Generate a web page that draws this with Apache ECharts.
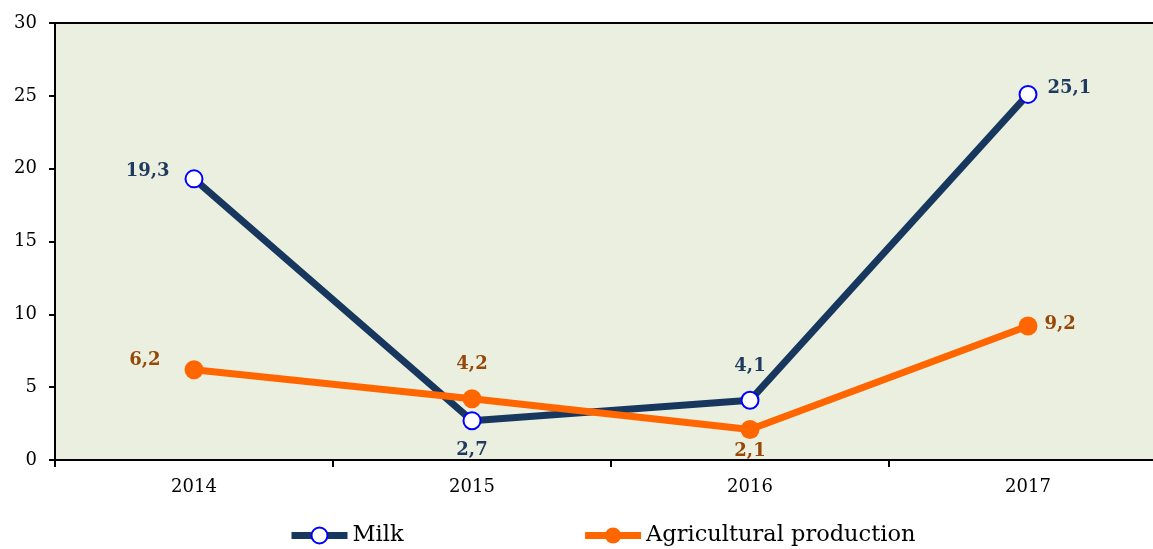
<!DOCTYPE html>
<html><head><meta charset="utf-8">
<script src="https://cdn.jsdelivr.net/npm/echarts@6/dist/echarts.min.js"></script>
<style>html,body{margin:0;padding:0;background:#fff}#c{width:1153px;height:549px}</style>
</head><body><div id="c"></div>
<script>
const categories = ['2014', '2015', '2016', '2017'];
const milk = [19.3, 2.7, 4.1, 25.1];
const agri = [6.2, 4.2, 2.1, 9.2];
const milkLabelPos = ['left', 'bottom', 'top', 'right'];
const agriLabelPos = ['left', 'top', 'bottom', 'right'];
const yTicks = [0, 5, 10, 15, 20, 25, 30];

const font = 'DejaVu Serif';
const fmt = p => String(p.value).replace('.', ',');

const milkDist = { left: 15, right: 10, top: 15, bottom: 11 };
const agriDist = { left: 24, right: 7, top: 16, bottom: 3 };
const milkOff = { left: [0, -8], right: [0, -6], top: [0, 0], bottom: [0, 0] };
const agriOff = { left: [0, -9], right: [0, -2], top: [0, 0], bottom: [0, 0] };

function mk(vals, pos, color, dist, off) {
  return vals.map((v, i) => ({
    value: v,
    label: { position: pos[i], distance: dist[pos[i]], offset: off[pos[i]], color: color }
  }));
}

const chart = echarts.init(document.getElementById('c'));
chart.setOption({
  animation: false,
  grid: { left: 55, top: 23, width: 1112, height: 437, outerBoundsMode: 'none', containLabel: false,
          show: true, backgroundColor: '#EBEFDF', borderColor: '#000', borderWidth: 2 },
  xAxis: {
    type: 'category', data: categories, boundaryGap: true,
    axisLine: { lineStyle: { color: '#000', width: 2 } },
    axisTick: { show: true, length: 7, lineStyle: { color: '#000', width: 2 } },
    axisLabel: { color: '#000', fontFamily: font, fontSize: 18, margin: 18 }
  },
  yAxis: {
    type: 'value', min: yTicks[0], max: yTicks[yTicks.length - 1], interval: 5,
    axisLine: { show: true, lineStyle: { color: '#000', width: 2 } },
    axisTick: { show: true, length: 6, lineStyle: { color: '#000', width: 2 } },
    splitLine: { show: false },
    axisLabel: { color: '#000', fontFamily: font, fontSize: 18, margin: 18 }
  },
  legend: {
    top: 524, left: 288, padding: 0, itemWidth: 56, itemHeight: 20, itemGap: 178,
    lineStyle: { width: 7 },
    textStyle: { fontFamily: font, fontSize: 22.5, color: '#000' },
    data: ['Milk', 'Agricultural production']
  },
  series: [
    {
      name: 'Milk', type: 'line', data: mk(milk, milkLabelPos, '#1F3A5F', milkDist, milkOff),
      lineStyle: { color: '#17375E', width: 7 },
      itemStyle: { color: '#fff', borderColor: '#0000FF', borderWidth: 2 },
      symbol: 'circle', symbolSize: 17, z: 2,
      label: { show: true, formatter: fmt, fontFamily: font, fontWeight: 'bold', fontSize: 18 }
    },
    {
      name: 'Agricultural production', type: 'line', data: mk(agri, agriLabelPos, '#974806', agriDist, agriOff),
      lineStyle: { color: '#FF6600', width: 7 },
      itemStyle: { color: '#FF6600', borderColor: '#FF6600', borderWidth: 0 },
      symbol: 'circle', symbolSize: 19, z: 3,
      label: { show: true, formatter: fmt, fontFamily: font, fontWeight: 'bold', fontSize: 18 }
    }
  ]
});
</script></body></html>
